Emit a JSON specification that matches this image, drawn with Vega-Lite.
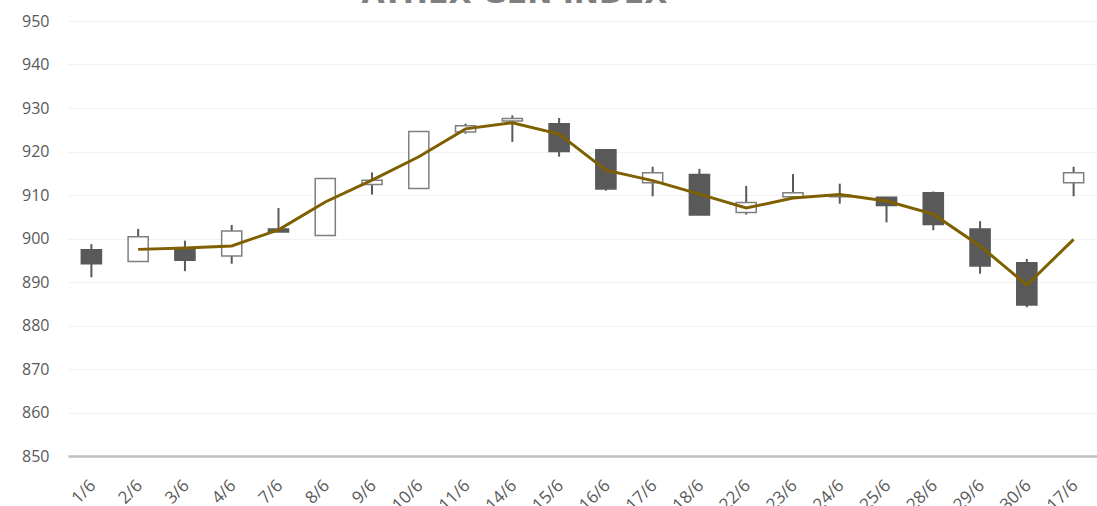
{
  "$schema": "https://vega.github.io/schema/vega-lite/v6.json",
  "autosize": {"type": "none"},
  "padding": {"left": 68, "top": 21, "right": 0, "bottom": 50},
  "width": 1029,
  "height": 435,
  "background": "white",
  "title": {
    "text": "ATHEX GEN INDEX",
    "font": "DejaVu Sans",
    "fontSize": 30,
    "fontWeight": "bold",
    "color": "#7f7f7f",
    "anchor": "middle",
    "dx": -68,
    "dy": 25,
    "baseline": "alphabetic",
    "offset": 5
  },
  "config": {
    "view": {"stroke": null},
    "axis": {"labelFont": "Open Sans", "labelFontSize": 16, "labelColor": "#595959", "ticks": false, "title": null}
  },
  "data": {
    "values": [
      {"date": "1/6", "open": 897.4, "high": 898.7, "low": 891.1, "close": 894.2, "ma": null},
      {"date": "2/6", "open": 894.7, "high": 902.2, "low": 894.6, "close": 900.4, "ma": 897.5},
      {"date": "3/6", "open": 897.4, "high": 899.5, "low": 892.5, "close": 895.0, "ma": 897.8},
      {"date": "4/6", "open": 896.0, "high": 903.1, "low": 894.2, "close": 901.7, "ma": 898.3},
      {"date": "7/6", "open": 902.2, "high": 907.0, "low": 901.5, "close": 901.5, "ma": 902.0},
      {"date": "8/6", "open": 900.7, "high": 913.9, "low": 900.6, "close": 913.8, "ma": 908.4},
      {"date": "9/6", "open": 912.4, "high": 915.2, "low": 910.1, "close": 913.4, "ma": 913.4},
      {"date": "10/6", "open": 911.5, "high": 924.6, "low": 911.4, "close": 924.6, "ma": 918.8},
      {"date": "11/6", "open": 924.5, "high": 926.4, "low": 924.1, "close": 925.9, "ma": 925.2},
      {"date": "14/6", "open": 927.0, "high": 928.3, "low": 922.2, "close": 927.6, "ma": 926.6},
      {"date": "15/6", "open": 926.4, "high": 927.7, "low": 918.8, "close": 920.0, "ma": 924.0},
      {"date": "16/6", "open": 920.4, "high": 920.4, "low": 911.0, "close": 911.4, "ma": 915.7},
      {"date": "17/6", "open": 912.8, "high": 916.5, "low": 909.7, "close": 915.1, "ma": 913.3},
      {"date": "18/6", "open": 914.7, "high": 916.0, "low": 905.4, "close": 905.4, "ma": 910.2},
      {"date": "22/6", "open": 906.0, "high": 912.1, "low": 905.5, "close": 908.3, "ma": 907.0},
      {"date": "23/6", "open": 909.6, "high": 914.8, "low": 909.6, "close": 910.5, "ma": 909.3},
      {"date": "24/6", "open": 909.6, "high": 912.6, "low": 908.0, "close": 910.0, "ma": 910.1},
      {"date": "25/6", "open": 909.5, "high": 909.5, "low": 903.7, "close": 907.6, "ma": 908.6},
      {"date": "28/6", "open": 910.5, "high": 910.8, "low": 901.9, "close": 903.2, "ma": 905.6},
      {"date": "29/6", "open": 902.2, "high": 904.0, "low": 891.9, "close": 893.7, "ma": 898.3},
      {"date": "30/6", "open": 894.4, "high": 895.3, "low": 884.2, "close": 884.7, "ma": 889.3},
      {"date": "17/6 ", "open": 912.8, "high": 916.5, "low": 909.7, "close": 915.1, "ma": 899.8}
    ]
  },
  "encoding": {
    "x": {
      "field": "date",
      "type": "ordinal",
      "sort": null,
      "scale": {"type": "band", "paddingInner": 0, "paddingOuter": 0},
      "axis": {
        "labelAngle": -45,
        "labelPadding": 21,
        "labelOffset": -4,
        "labelFontSize": 17,
        "domainColor": "#bfbfbf",
        "domainWidth": 2.5,
        "grid": false
      }
    }
  },
  "layer": [
    {
      "mark": {"type": "rule", "color": "#595959", "strokeWidth": 2},
      "encoding": {
        "y": {
          "field": "low",
          "type": "quantitative",
          "scale": {"domain": [850, 950], "nice": false, "zero": false},
          "axis": {
            "values": [850, 860, 870, 880, 890, 900, 910, 920, 930, 940, 950],
            "domain": false,
            "labelPadding": 19,
            "gridColor": "#f2f2f2",
            "gridWidth": 1.2
          }
        },
        "y2": {"field": "high"}
      }
    },
    {
      "mark": {"type": "bar", "width": {"band": 0.43}, "strokeWidth": 1.5},
      "encoding": {
        "y": {"field": "open", "type": "quantitative"},
        "y2": {"field": "close"},
        "fill": {"condition": {"test": "datum.close > datum.open", "value": "#ffffff"}, "value": "#595959"},
        "stroke": {"condition": {"test": "datum.close > datum.open", "value": "#7f7f7f"}, "value": "#595959"}
      }
    },
    {
      "mark": {"type": "line", "color": "#7f6000", "strokeWidth": 3},
      "encoding": {
        "y": {"field": "ma", "type": "quantitative"}
      }
    }
  ]
}
